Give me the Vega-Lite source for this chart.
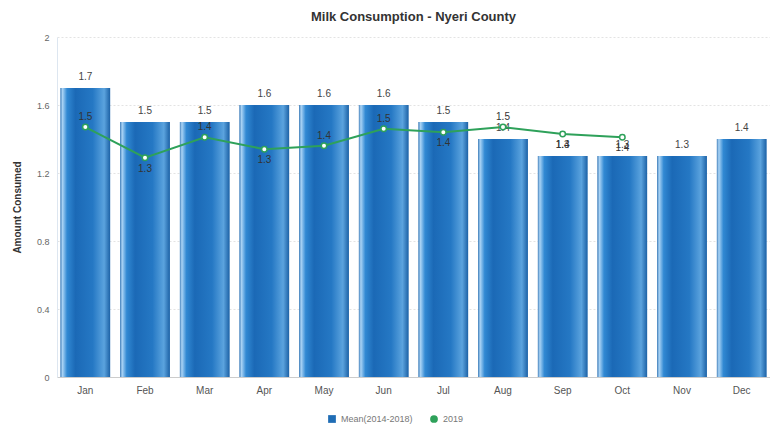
{
  "$schema": "https://vega.github.io/schema/vega-lite/v6.json",
  "autosize": {"type": "none"},
  "width": 713,
  "height": 340,
  "padding": {"left": 57, "top": 37, "right": 0, "bottom": 55},
  "background": "white",
  "title": {"text": "Milk Consumption - Nyeri County", "font": "Liberation Sans", "fontSize": 13, "fontWeight": "bold", "color": "#333333", "offset": 9, "anchor": "middle"},
  "config": {"view": {"stroke": null}, "font": "Liberation Sans"},
  "data": {"values": [
    {"month": "Jan", "mean": 1.7, "y2019": 1.47},
    {"month": "Feb", "mean": 1.5, "y2019": 1.29},
    {"month": "Mar", "mean": 1.5, "y2019": 1.41},
    {"month": "Apr", "mean": 1.6, "y2019": 1.34},
    {"month": "May", "mean": 1.6, "y2019": 1.36},
    {"month": "Jun", "mean": 1.6, "y2019": 1.46},
    {"month": "Jul", "mean": 1.5, "y2019": 1.44},
    {"month": "Aug", "mean": 1.4, "y2019": 1.47},
    {"month": "Sep", "mean": 1.3, "y2019": 1.43},
    {"month": "Oct", "mean": 1.3, "y2019": 1.41},
    {"month": "Nov", "mean": 1.3, "y2019": null},
    {"month": "Dec", "mean": 1.4, "y2019": null}
  ]},
  "encoding": {
    "x": {"field": "month", "type": "nominal", "sort": null,
      "scale": {"paddingInner": 0.17, "paddingOuter": 0.06},
      "axis": {"title": null, "labelAngle": 0, "labelColor": "#555555", "labelFontSize": 10, "domainColor": "#cccccc", "ticks": false, "labelPadding": 8}}
  },
  "layer": [
    {
      "mark": {"type": "bar", "opacity": 1},
      "encoding": {
        "y": {"field": "mean", "type": "quantitative",
          "scale": {"domain": [0, 2]},
          "axis": {"title": "Amount Consumed", "titleFontSize": 10, "titleFontWeight": "bold", "titleColor": "#333333", "titlePadding": 14,
            "values": [0, 0.4, 0.8, 1.2, 1.6, 2], "format": "~g", "labelColor": "#666666", "labelFontSize": 9,
            "gridColor": "#e3e3e3", "gridDash": [2, 2], "domainColor": "#dde6f0", "ticks": false, "labelPadding": 8}},
        "color": {"datum": "Mean(2014-2018)", "type": "nominal",
          "scale": {"domain": ["Mean(2014-2018)", "2019"], "range": ["#1f6db5", "#2ea15a"]},
          "legend": {"title": null, "orient": "none", "legendX": 270, "legendY": 377, "direction": "horizontal", "labelColor": "#777777", "labelFontSize": 9, "symbolSize": 60, "columnPadding": 16}}
      }
    },
    {
      "mark": {"type": "bar", "color": {"gradient": "linear", "x1": 0, "x2": 1, "y1": 0, "y2": 0,
        "stops": [
          {"offset": 0, "color": "#4a86bf"},
          {"offset": 0.04, "color": "#a9d3f5"},
          {"offset": 0.13, "color": "#3189d3"},
          {"offset": 0.3, "color": "#1b69b6"},
          {"offset": 0.65, "color": "#2578c4"},
          {"offset": 0.88, "color": "#5ba3de"},
          {"offset": 1, "color": "#1d62a6"}
        ]}},
      "encoding": {"y": {"field": "mean", "type": "quantitative"}}
    },
    {
      "mark": {"type": "text", "dy": -11, "fontSize": 10, "color": "#444444"},
      "encoding": {"y": {"field": "mean", "type": "quantitative"}, "text": {"field": "mean", "type": "quantitative", "format": ".1f"}}
    },
    {
      "transform": [{"filter": "datum.y2019 != null"}],
      "mark": {"type": "line", "strokeWidth": 2, "color": "#2ea15a"},
      "encoding": {"y": {"field": "y2019", "type": "quantitative"}}
    },
    {
      "transform": [{"filter": "datum.y2019 != null"}],
      "mark": {"type": "point", "filled": true, "fill": "white", "stroke": "#2ea15a", "strokeWidth": 1.5, "size": 30, "opacity": 1},
      "encoding": {"y": {"field": "y2019", "type": "quantitative"},
        "color": {"datum": "2019", "type": "nominal"},
        "shape": {"datum": "2019", "type": "nominal", "scale": {"domain": ["Mean(2014-2018)", "2019"], "range": ["square", "circle"]}, "legend": null}}
    },
    {
      "transform": [{"filter": "indexof(['Jan','Mar','May','Jun','Aug'], datum.month) >= 0"}],
      "mark": {"type": "text", "dy": -10, "fontSize": 10, "color": "#333333"},
      "encoding": {"y": {"field": "y2019", "type": "quantitative"}, "text": {"field": "y2019", "type": "quantitative", "format": ".1f"}}
    },
    {
      "transform": [{"filter": "indexof(['Feb','Apr','Jul','Sep','Oct'], datum.month) >= 0"}],
      "mark": {"type": "text", "dy": 11, "fontSize": 10, "color": "#333333"},
      "encoding": {"y": {"field": "y2019", "type": "quantitative"}, "text": {"field": "y2019", "type": "quantitative", "format": ".1f"}}
    }
  ]
}
